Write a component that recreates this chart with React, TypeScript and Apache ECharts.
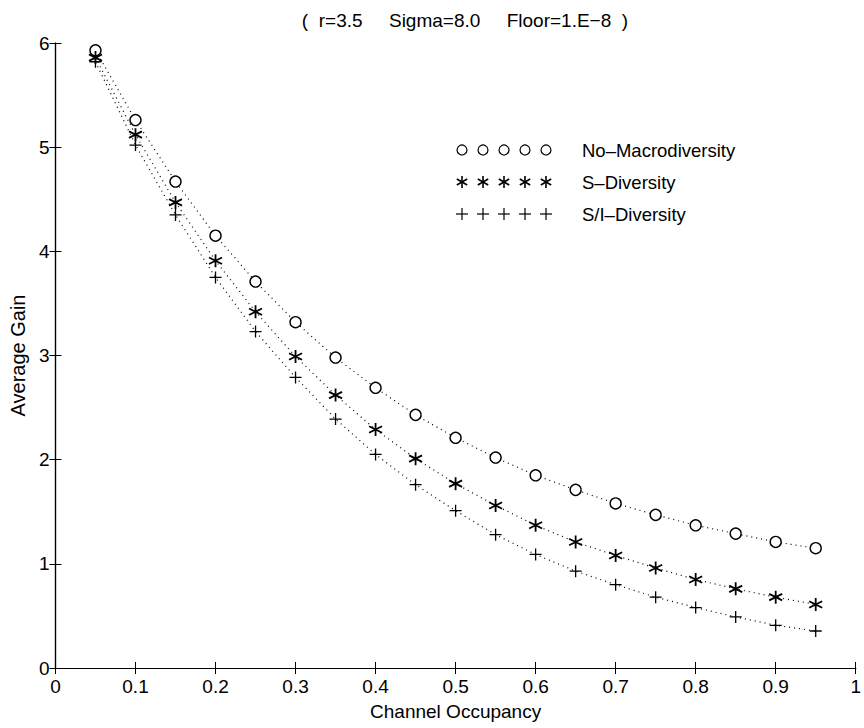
import React, { useEffect, useRef } from "react";
import * as echarts from "echarts";

const occupancy = [0.05, 0.1, 0.15, 0.2, 0.25, 0.3, 0.35, 0.4, 0.45, 0.5, 0.55, 0.6, 0.65, 0.7, 0.75, 0.8, 0.85, 0.9, 0.95];
const noMacro = [5.93, 5.26, 4.67, 4.15, 3.71, 3.32, 2.98, 2.69, 2.43, 2.21, 2.02, 1.85, 1.71, 1.58, 1.47, 1.37, 1.29, 1.21, 1.15];
const sDiv = [5.86, 5.12, 4.47, 3.91, 3.42, 2.99, 2.62, 2.29, 2.01, 1.77, 1.56, 1.37, 1.21, 1.08, 0.96, 0.85, 0.76, 0.68, 0.61];
const slDiv = [5.82, 5.02, 4.35, 3.75, 3.23, 2.79, 2.39, 2.05, 1.76, 1.51, 1.28, 1.09, 0.93, 0.8, 0.68, 0.58, 0.49, 0.41, 0.355];
const seriesNames = ["No\u2013Macrodiversity", "S\u2013Diversity", "S/I\u2013Diversity"];
const titleText = "(  r=3.5     Sigma=8.0     Floor=1.E\u22128  )";

const FONT = "'Liberation Sans', Arial, Helvetica, sans-serif";
const STAR = "path://M0,-6L0,6M-5.2,-3L5.2,3M-5.2,3L5.2,-3";
const PLUS = "path://M0,-6L0,6M-6,0L6,0";

function legendMarkers(kind: string, y: number) {
  const els: any[] = [];
  for (let i = 0; i < 5; i++) {
    const cx = 462 + i * 21;
    if (kind === "circle") {
      els.push({ type: "circle", shape: { cx, cy: y, r: 5 }, style: { fill: "none", stroke: "#000", lineWidth: 1.2 } });
    } else if (kind === "star") {
      els.push({ type: "line", shape: { x1: cx, y1: y - 6, x2: cx, y2: y + 6 }, style: { stroke: "#000", lineWidth: 1.6 } });
      els.push({ type: "line", shape: { x1: cx - 5.2, y1: y - 3, x2: cx + 5.2, y2: y + 3 }, style: { stroke: "#000", lineWidth: 1.6 } });
      els.push({ type: "line", shape: { x1: cx - 5.2, y1: y + 3, x2: cx + 5.2, y2: y - 3 }, style: { stroke: "#000", lineWidth: 1.6 } });
    } else {
      els.push({ type: "line", shape: { x1: cx, y1: y - 6, x2: cx, y2: y + 6 }, style: { stroke: "#000", lineWidth: 1.2 } });
      els.push({ type: "line", shape: { x1: cx - 6, y1: y, x2: cx + 6, y2: y }, style: { stroke: "#000", lineWidth: 1.2 } });
    }
  }
  return els;
}

export default function App() {
  const ref = useRef<HTMLDivElement>(null);
  useEffect(() => {
    if (!ref.current) return;
    const chart = echarts.init(ref.current, undefined, { renderer: "svg" });
    const mk = (vals: number[]) => occupancy.map((x, i) => [x, vals[i]]);
    const lineStyle = { color: "#000", width: 1.2, type: [1, 4] as any };
    const axisTextStyle = { color: "#000", fontFamily: FONT, fontSize: 19 };
    const legendRows = [
      { kind: "circle", y: 150, name: seriesNames[0] },
      { kind: "star", y: 182, name: seriesNames[1] },
      { kind: "plus", y: 214, name: seriesNames[2] },
    ];
    const graphics: any[] = [];
    legendRows.forEach((r) => {
      graphics.push(...legendMarkers(r.kind, r.y));
      graphics.push({
        type: "text",
        x: 582,
        y: r.y,
        style: { text: r.name, fill: "#000", font: `18.5px ${FONT}`, textVerticalAlign: "middle" },
      });
    });
    chart.setOption({
      animation: false,
      backgroundColor: "#fff",
      title: {
        text: titleText,
        left: 460,
        textAlign: "center",
        top: 6,
        textStyle: { color: "#000", fontFamily: FONT, fontSize: 19, fontWeight: "normal" },
      },
      grid: { left: 52, right: 3, top: 43, bottom: 60, show: false },
      xAxis: [
        {
          type: "value",
          min: 0,
          max: 1,
          interval: 0.1,
          position: "bottom",
          name: "Channel Occupancy",
          nameLocation: "middle",
          nameGap: 34,
          nameTextStyle: { color: "#000", fontFamily: FONT, fontSize: 19 },
          axisLine: { show: true, lineStyle: { color: "#000", width: 1.2 } },
          axisTick: { show: true, inside: true, length: 6, lineStyle: { color: "#000" } },
          axisLabel: { ...axisTextStyle, margin: 9, formatter: (v: number) => (v === 0 || v === 1 ? String(v) : v.toFixed(1)) },
          splitLine: { show: false },
        },
        {
          type: "value",
          min: 0,
          max: 1,
          interval: 0.1,
          position: "top",
          axisLine: { show: true, lineStyle: { color: "#000", width: 1.2 } },
          axisTick: { show: true, inside: true, length: 6, lineStyle: { color: "#000" } },
          axisLabel: { show: false },
          splitLine: { show: false },
        },
      ],
      yAxis: [
        {
          type: "value",
          min: 0,
          max: 6,
          interval: 1,
          position: "left",
          name: "Average Gain",
          nameLocation: "middle",
          nameGap: 20,
          nameTextStyle: { color: "#000", fontFamily: FONT, fontSize: 20 },
          axisLine: { show: true, lineStyle: { color: "#000", width: 1.2 } },
          axisTick: { show: true, inside: true, length: 6, lineStyle: { color: "#000" } },
          axisLabel: { ...axisTextStyle, margin: 6 },
          splitLine: { show: false },
        },
        {
          type: "value",
          min: 0,
          max: 6,
          interval: 1,
          position: "right",
          axisLine: { show: true, lineStyle: { color: "#000", width: 1.2 } },
          axisTick: { show: true, inside: true, length: 6, lineStyle: { color: "#000" } },
          axisLabel: { show: false },
          splitLine: { show: false },
        },
      ],
      series: [
        {
          name: seriesNames[0],
          type: "line",
          data: mk(noMacro),
          symbol: "circle",
          symbolSize: 11,
          showAllSymbol: true,
          lineStyle,
          itemStyle: { color: "#fff", borderColor: "#000", borderWidth: 1.4 },
          z: 3,
        },
        {
          name: seriesNames[1],
          type: "line",
          data: mk(sDiv),
          symbol: STAR,
          symbolSize: 13,
          showAllSymbol: true,
          lineStyle,
          itemStyle: { color: "rgba(0,0,0,0)", borderColor: "#000", borderWidth: 1.8 },
          z: 3,
        },
        {
          name: seriesNames[2],
          type: "line",
          data: mk(slDiv),
          symbol: PLUS,
          symbolSize: 12,
          showAllSymbol: true,
          lineStyle,
          itemStyle: { color: "rgba(0,0,0,0)", borderColor: "#000", borderWidth: 1.3 },
          z: 3,
        },
      ],
      graphic: graphics,
    });
    return () => chart.dispose();
  }, []);
  return <div ref={ref} style={{ width: 864, height: 728, position: "absolute", left: 0, top: 0 }} />;
}
